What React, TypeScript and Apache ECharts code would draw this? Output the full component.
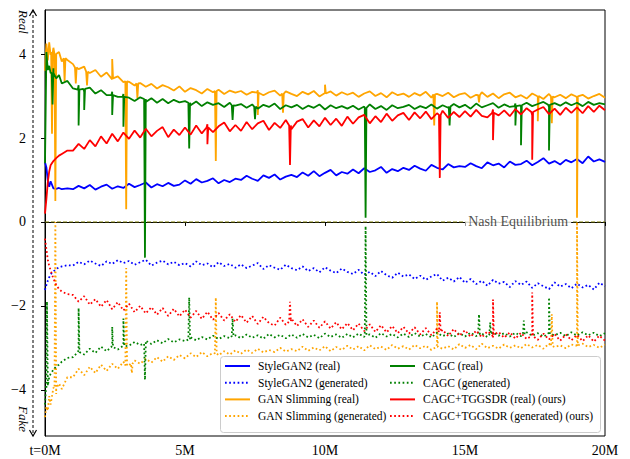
import React, { useEffect, useRef } from "react";
import * as echarts from "echarts";

// sample positions (millions of iterations)
const STEPS = [
  0, 0.05, 0.1, 0.15, 0.2, 0.3, 0.4, 0.5, 0.6, 0.8,
  1.0, 1.2, 1.4, 1.6, 1.8, 2.0, 2.2, 2.4, 2.6, 2.8,
  3.0, 3.2, 3.4, 3.6, 3.8, 4.0, 4.2, 4.4, 4.6, 4.8,
  5.0, 5.2, 5.4, 5.6, 5.8, 6.0, 6.2, 6.4, 6.6, 6.8,
  7.0, 7.2, 7.4, 7.6, 7.8, 8.0, 8.2, 8.4, 8.6, 8.8,
  9.0, 9.2, 9.4, 9.6, 9.8, 10.0, 10.2, 10.4, 10.6, 10.8,
  11.0, 11.2, 11.4, 11.6, 11.8, 12.0, 12.2, 12.4, 12.6, 12.8,
  13.0, 13.2, 13.4, 13.6, 13.8, 14.0, 14.2, 14.4, 14.6, 14.8,
  15.0, 15.2, 15.4, 15.6, 15.8, 16.0, 16.2, 16.4, 16.6, 16.8,
  17.0, 17.2, 17.4, 17.6, 17.8, 18.0, 18.2, 18.4, 18.6, 18.8,
  19.0, 19.2, 19.4, 19.6, 19.8, 20.0,
];

const STYLEGAN2_REAL = [
  1.42, 1.30, 0.98, 0.84, 0.97, 0.80, 0.79, 0.81, 0.78, 0.80,
  0.78, 0.86, 0.80, 0.88, 0.77, 0.84, 0.89, 0.79, 0.85, 0.81,
  0.91, 0.83, 0.88, 0.94, 0.82, 0.90, 0.85, 0.93, 0.86, 0.89,
  0.99, 0.91, 1.02, 0.94, 0.98, 1.04, 0.92, 1.00, 0.95, 1.03,
  1.00, 1.10, 1.03, 0.98, 1.11, 1.05, 1.13, 1.01, 1.08, 1.12,
  1.07, 1.18, 1.10, 1.21, 1.09, 1.17, 1.24, 1.11, 1.19, 1.15,
  1.25, 1.16, 1.28, 1.19, 1.23, 1.31, 1.17, 1.26, 1.21, 1.29,
  1.24, 1.34, 1.27, 1.22, 1.36, 1.29, 1.25, 1.38, 1.30, 1.33,
  1.31, 1.40, 1.33, 1.28, 1.42, 1.35, 1.39, 1.30, 1.44, 1.36,
  1.38, 1.46, 1.35, 1.43, 1.52, 1.39, 1.45, 1.37, 1.48, 1.42,
  1.50, 1.40, 1.56, 1.44, 1.49, 1.43,
];
const STYLEGAN2_GEN = [
  -1.62, -1.50, -1.40, -1.32, -1.25, -1.18, -1.12, -1.08, -1.06, -1.03,
  -1.04, -0.95, -1.01, -0.92, -0.99, -1.05, -0.94, -1.00, -0.91, -0.98,
  -0.93, -1.02, -0.96, -0.90, -1.04, -0.97, -0.92, -1.01, -0.95, -1.03,
  -0.98, -1.06, -0.94, -1.03, -0.99, -1.08, -0.96, -1.05, -1.00, -1.09,
  -1.01, -1.10, -1.04, -0.98, -1.12, -1.03, -1.09, -1.14, -1.02, -1.10,
  -1.15, -1.06, -1.17, -1.10, -1.20, -1.08, -1.16, -1.22, -1.11, -1.19,
  -1.24, -1.14, -1.26, -1.19, -1.29, -1.17, -1.27, -1.33, -1.21, -1.30,
  -1.25, -1.36, -1.28, -1.38, -1.30, -1.24, -1.40, -1.33, -1.42, -1.31,
  -1.45, -1.36, -1.48, -1.40, -1.52, -1.38, -1.47, -1.43, -1.55, -1.41,
  -1.50, -1.42, -1.57, -1.46, -1.53, -1.60, -1.44, -1.54, -1.48, -1.58,
  -1.47, -1.56, -1.50, -1.61, -1.45, -1.53,
];
const SLIM_REAL = [
  3.60, 4.25, 3.85, 4.28, 3.98, 4.15, 3.90, 4.05, 3.82, 3.86,
  3.76, 3.64, 3.70, 3.55, 3.62, 3.46, 3.56, 3.40, 3.47, 3.33,
  3.34, 3.25, 3.31, 3.22, 3.29, 3.18, 3.26, 3.21, 3.13, 3.23,
  3.10, 3.19, 3.14, 3.06, 3.17, 3.09, 3.15, 3.05, 3.13, 3.08,
  3.12, 3.03, 3.10, 3.14, 3.02, 3.09, 3.13, 3.01, 3.11, 3.05,
  3.00, 3.10, 3.04, 3.12, 2.99, 3.07, 3.11, 3.01, 3.09, 3.03,
  3.08, 2.98, 3.06, 3.11, 3.00, 3.07, 2.97, 3.09, 3.02, 3.06,
  2.98, 3.07, 3.01, 3.10, 2.96, 3.05, 3.00, 3.08, 2.97, 3.04,
  3.07, 2.96, 3.03, 3.09, 2.98, 3.06, 2.95, 3.04, 3.08, 2.97,
  3.02, 2.94, 3.06, 2.99, 2.93, 3.05, 2.97, 3.03, 2.95, 3.04,
  2.96, 3.03, 2.94, 3.00, 3.05, 2.96,
];
const SLIM_GEN = [
  -4.65, -4.40, -4.50, -4.15, -4.35, -3.95, -4.10, -3.85, -3.98, -3.70,
  -3.70, -3.50, -3.65, -3.45, -3.60, -3.40, -3.55, -3.38, -3.50, -3.33,
  -3.42, -3.30, -3.38, -3.26, -3.35, -3.22, -3.33, -3.20, -3.29, -3.17,
  -3.25, -3.13, -3.22, -3.10, -3.20, -3.12, -3.18, -3.08, -3.16, -3.06,
  -3.14, -3.04, -3.12, -3.02, -3.11, -3.05, -3.10, -3.00, -3.09, -3.03,
  -3.08, -2.97, -3.07, -2.99, -3.06, -2.96, -3.08, -2.98, -3.05, -2.95,
  -3.04, -2.96, -3.06, -2.94, -3.03, -2.97, -3.05, -2.93, -3.02, -2.96,
  -3.04, -2.93, -3.01, -2.95, -3.05, -2.92, -3.02, -2.96, -3.04, -2.91,
  -3.00, -2.93, -3.03, -2.90, -3.01, -2.95, -3.02, -2.92, -3.00, -2.94,
  -3.01, -2.91, -2.99, -2.93, -3.02, -2.90, -2.98, -2.94, -3.01, -2.92,
  -2.99, -2.90, -2.98, -2.93, -3.00, -2.92,
];
const CAGC_REAL = [
  1.40, 4.05, 3.62, 3.72, 3.55, 3.66, 3.42, 3.50, 3.30, 3.36,
  3.18, 3.26, 3.10, 3.20, 3.06, 3.14, 3.02, 3.10, 2.98, 3.05,
  2.96, 2.88, 2.97, 2.86, 2.95, 2.84, 2.93, 2.83, 2.91, 2.85,
  2.88, 2.78, 2.87, 2.76, 2.85, 2.79, 2.83, 2.74, 2.84, 2.77,
  2.81, 2.72, 2.80, 2.70, 2.79, 2.74, 2.82, 2.69, 2.78, 2.73,
  2.79, 2.69, 2.77, 2.72, 2.80, 2.68, 2.78, 2.71, 2.76, 2.70,
  2.77, 2.68, 2.75, 2.80, 2.69, 2.76, 2.67, 2.78, 2.71, 2.74,
  2.79, 2.69, 2.76, 2.71, 2.80, 2.70, 2.78, 2.72, 2.81, 2.73,
  2.79, 2.70, 2.82, 2.73, 2.78, 2.83, 2.72, 2.80, 2.74, 2.82,
  2.75, 2.84, 2.76, 2.81, 2.86, 2.74, 2.83, 2.77, 2.85, 2.78,
  2.84, 2.76, 2.86, 2.79, 2.83, 2.80,
];
const CAGC_GEN = [
  -4.35, -3.95, -3.80, -3.70, -3.62, -3.52, -3.44, -3.40, -3.33, -3.24,
  -3.22, -3.06, -3.16, -3.02, -3.12, -2.97, -3.08, -2.93, -3.04, -2.91,
  -2.95, -2.86, -2.93, -2.83, -2.91, -2.82, -2.89, -2.79, -2.87, -2.80,
  -2.84, -2.75, -2.82, -2.74, -2.80, -2.71, -2.79, -2.72, -2.77, -2.70,
  -2.77, -2.68, -2.76, -2.70, -2.78, -2.67, -2.75, -2.69, -2.77, -2.68,
  -2.76, -2.67, -2.75, -2.69, -2.77, -2.66, -2.74, -2.68, -2.76, -2.67,
  -2.75, -2.66, -2.74, -2.68, -2.76, -2.65, -2.73, -2.67, -2.75, -2.66,
  -2.74, -2.65, -2.73, -2.67, -2.75, -2.64, -2.72, -2.66, -2.74, -2.65,
  -2.73, -2.64, -2.72, -2.66, -2.74, -2.63, -2.71, -2.65, -2.73, -2.64,
  -2.72, -2.63, -2.71, -2.65, -2.73, -2.62, -2.70, -2.64, -2.72, -2.63,
  -2.71, -2.63, -2.70, -2.64, -2.72, -2.65,
];
const OURS_REAL = [
  0.20, 0.55, 0.95, 1.20, 1.35, 1.45, 1.52, 1.58, 1.62, 1.70,
  1.70, 1.86, 1.74, 1.95, 1.80, 2.04, 1.87, 2.10, 1.92, 2.13,
  1.98, 2.18, 2.01, 2.22, 2.04, 2.17, 2.26, 2.02, 2.20, 2.07,
  2.25, 2.08, 2.30, 2.11, 2.33, 2.14, 2.28, 2.37, 2.16, 2.31,
  2.17, 2.38, 2.21, 2.35, 2.41, 2.19, 2.36, 2.24, 2.43, 2.21,
  2.39, 2.45, 2.25, 2.42, 2.28, 2.48, 2.31, 2.46, 2.29, 2.51,
  2.34, 2.49, 2.55, 2.35, 2.52, 2.38, 2.58, 2.41, 2.54, 2.60,
  2.43, 2.61, 2.47, 2.63, 2.45, 2.59, 2.65, 2.48, 2.62, 2.50,
  2.64, 2.51, 2.67, 2.53, 2.49, 2.68, 2.54, 2.66, 2.52, 2.69,
  2.56, 2.71, 2.54, 2.68, 2.74, 2.57, 2.70, 2.55, 2.72, 2.60,
  2.73, 2.59, 2.76, 2.62, 2.77, 2.66,
];
const OURS_GEN = [
  -0.40, -0.65, -0.90, -1.05, -1.15, -1.35, -1.50, -1.60, -1.66, -1.72,
  -1.74, -1.90, -1.77, -1.97, -1.84, -2.02, -1.86, -2.08, -1.91, -2.11,
  -1.95, -2.15, -2.00, -2.18, -2.03, -2.21, -2.05, -2.24, -2.07, -2.25,
  -2.09, -2.28, -2.12, -2.31, -2.14, -2.33, -2.17, -2.35, -2.20, -2.38,
  -2.22, -2.40, -2.24, -2.43, -2.26, -2.41, -2.47, -2.28, -2.45, -2.30,
  -2.48, -2.32, -2.50, -2.35, -2.52, -2.37, -2.54, -2.39, -2.56, -2.41,
  -2.58, -2.42, -2.60, -2.44, -2.62, -2.46, -2.63, -2.48, -2.65, -2.50,
  -2.66, -2.51, -2.68, -2.53, -2.70, -2.54, -2.57, -2.72, -2.55, -2.71,
  -2.58, -2.74, -2.59, -2.75, -2.61, -2.77, -2.62, -2.76, -2.63, -2.78,
  -2.64, -2.79, -2.65, -2.81, -2.66, -2.80, -2.67, -2.83, -2.68, -2.82,
  -2.69, -2.84, -2.70, -2.85, -2.71, -2.83,
];

// single-sample outliers [t (M), peak value, level around it]
const SLIM_REAL_SPIKES = [
  [0.25, 2.1, 4.05], [0.37, 0.5, 4.0], [0.7, 3.35, 3.9], [1.1, 3.3, 3.68], [1.5, 3.25, 3.58],
  [2.4, 3.88, 3.42], [2.9, 0.3, 3.35], [3.3, 2.95, 3.3], [6.1, 1.45, 3.12], [7.6, 2.55, 3.08],
  [8.5, 2.6, 3.06], [10.0, 3.27, 3.06], [13.9, 2.3, 3.04], [15.5, 2.85, 3.02], [17.6, 2.4, 3.0],
  [18.1, 2.35, 2.99], [19.0, 0.1, 2.99],
];
const SLIM_GEN_SPIKES = [
  [0.37, 0.0, -3.97], [2.9, -1.1, -3.42], [3.1, -3.6, -3.37], [6.1, -1.8, -3.13],
  [14.0, -1.9, -2.98], [18.1, -2.2, -2.96], [19.0, 0.0, -2.94],
];
const CAGC_REAL_SPIKES = [
  [0.27, 2.8, 3.55], [1.2, 2.3, 3.15], [1.4, 2.67, 3.17], [2.4, 2.55, 3.02], [2.8, 2.27, 2.98],
  [3.57, -0.85, 2.93], [5.15, 1.75, 2.84], [6.7, 2.43, 2.78], [7.5, 2.45, 2.75], [11.45, 0.1, 2.72],
  [14.45, 2.3, 2.75], [16.8, 2.3, 2.76], [17.0, 1.83, 2.78], [18.0, 1.7, 2.79],
];
const CAGC_GEN_SPIKES = [
  [0.07, -1.9, -3.9], [1.2, -2.05, -3.1], [2.4, -2.5, -2.98], [2.8, -2.3, -2.96], [3.57, -3.76, -2.9],
  [5.15, -1.8, -2.8], [6.7, -2.3, -2.72], [11.45, -0.1, -2.7], [15.5, -2.2, -2.68],
  [15.9, -2.4, -2.68], [17.1, -2.35, -2.68], [18.0, -1.8, -2.67],
];
const OURS_REAL_SPIKES = [
  [5.8, 1.85, 2.25], [8.75, 1.36, 2.3], [14.1, 1.05, 2.55], [16.0, 1.95, 2.6], [17.4, 1.48, 2.62],
];
const OURS_GEN_SPIKES = [
  [8.75, -1.9, -2.37], [14.1, -2.15, -2.62], [16.0, -1.85, -2.69], [17.4, -1.68, -2.72],
];

const X_TICKS = [0, 5, 10, 15, 20];
const Y_TICKS = [-4, -2, 0, 2, 4];
const NASH_T = 16.9;

const SERIES_DEFS = [
  { name: "StyleGAN2 (real)", vals: STYLEGAN2_REAL, spikes: [], color: "#0000ff", dotted: false },
  { name: "StyleGAN2 (generated)", vals: STYLEGAN2_GEN, spikes: [], color: "#0000ff", dotted: true },
  { name: "GAN Slimming (real)", vals: SLIM_REAL, spikes: SLIM_REAL_SPIKES, color: "#ffa500", dotted: false },
  { name: "GAN Slimming (generated)", vals: SLIM_GEN, spikes: SLIM_GEN_SPIKES, color: "#ffa500", dotted: true },
  { name: "CAGC (real)", vals: CAGC_REAL, spikes: CAGC_REAL_SPIKES, color: "#008000", dotted: false },
  { name: "CAGC (generated)", vals: CAGC_GEN, spikes: CAGC_GEN_SPIKES, color: "#008000", dotted: true },
  { name: "CAGC+TGGSDR (real) (ours)", vals: OURS_REAL, spikes: OURS_REAL_SPIKES, color: "#ff0000", dotted: false },
  { name: "CAGC+TGGSDR (generated) (ours)", vals: OURS_GEN, spikes: OURS_GEN_SPIKES, color: "#ff0000", dotted: true },
];

const FONT = "Liberation Serif";
const DOT: number[] = [1.7, 2.5];
const SPIKE_HALF = 0.03;

function build(vals: number[], spikes: number[][]) {
  const pts = STEPS.map((t, i) => [t, vals[i]]);
  spikes.forEach((s) => {
    pts.push([s[0] - SPIKE_HALF, s[2]]);
    pts.push([s[0], s[1]]);
    pts.push([s[0] + SPIKE_HALF, s[2]]);
  });
  pts.sort((a, b) => a[0] - b[0]);
  return pts;
}

function legendGraphic() {
  const els: any[] = [
    {
      type: "rect",
      shape: { x: 220.5, y: 356.5, width: 380, height: 76, r: 3 },
      style: { fill: "rgba(255,255,255,0.85)", stroke: "#cccccc", lineWidth: 1 },
      z: 100,
    },
  ];
  SERIES_DEFS.forEach((d, i) => {
    const col = Math.floor(i / 4);
    const row = i % 4;
    const x0 = col === 0 ? 225 : 390;
    const y = 366 + row * 16.7;
    els.push({
      type: "line",
      shape: { x1: x0, y1: y, x2: x0 + 25, y2: y },
      style: { stroke: d.color, lineWidth: 2, lineDash: d.dotted ? DOT : null },
      z: 101,
    });
    els.push({
      type: "text",
      x: x0 + 33,
      y: y,
      style: { text: d.name, fontFamily: FONT, fontSize: 11.5, fill: "#000", align: "left", verticalAlign: "middle" },
      z: 101,
    });
  });
  return els;
}

export default function App() {
  const ref = useRef<HTMLDivElement>(null);
  useEffect(() => {
    if (!ref.current) return;
    const chart = echarts.init(ref.current, null, { renderer: "svg" });
    const series: any[] = [
      {
        type: "line",
        data: [[0, 0], [20, 0]],
        symbol: "none",
        silent: true,
        lineStyle: { color: "#808000", width: 0.9, type: [4, 2] },
        z: 1,
      },
      ...SERIES_DEFS.map((d, i) => ({
        name: d.name,
        type: "line",
        data: build(d.vals, d.spikes),
        symbol: "none",
        silent: true,
        color: d.color,
        itemStyle: { color: d.color },
        lineStyle: { color: d.color, width: 1.8, type: d.dotted ? DOT : "solid" },
        z: 2 + i,
      })),
      {
        type: "scatter",
        data: [[NASH_T, 0]],
        symbolSize: 0,
        silent: true,
        z: 20,
        label: {
          show: true,
          position: "inside",
          formatter: "Nash Equilibrium",
          fontFamily: FONT,
          fontSize: 14,
          color: "#222",
          backgroundColor: "#fff",
          padding: [1, 3],
        },
      },
    ];
    chart.setOption({
      animation: false,
      grid: {
        left: 45, right: 25, top: 10, bottom: 23,
        show: true, borderColor: "#000", borderWidth: 1, backgroundColor: "transparent",
      },
      xAxis: {
        type: "value", min: 0, max: 20, interval: 5,
        axisLine: { show: true, lineStyle: { color: "#000", width: 1 } },
        axisTick: { show: true, length: 4, lineStyle: { color: "#000" } },
        splitLine: { show: false },
        axisLabel: {
          margin: 7, fontFamily: FONT, fontSize: 14, color: "#000",
          formatter: (v: number) => (v === 0 ? "t=0M" : v + "M"),
          customValues: X_TICKS,
        },
      },
      yAxis: {
        type: "value", min: -5.1, max: 5.05,
        axisLine: { show: true, lineStyle: { color: "#000", width: 1 } },
        axisTick: { show: true, length: 4, lineStyle: { color: "#000" }, customValues: Y_TICKS },
        splitLine: { show: false },
        axisLabel: {
          margin: 19, fontFamily: FONT, fontSize: 14, color: "#000",
          customValues: Y_TICKS,
          formatter: (v: number) => (v < 0 ? "\u2212" + Math.abs(v) : String(v)),
        },
      },
      graphic: [
        { type: "line", shape: { x1: 33, y1: 10, x2: 33, y2: 436 }, style: { stroke: "#000", lineWidth: 1, lineDash: [3, 2] } },
        { type: "polyline", shape: { points: [[29.5, 16], [33, 10], [36.5, 16]] }, style: { stroke: "#000", lineWidth: 1.2, fill: null } },
        { type: "polyline", shape: { points: [[29.5, 430], [33, 436], [36.5, 430]] }, style: { stroke: "#000", lineWidth: 1.2, fill: null } },
        { type: "text", x: 23, y: 22, rotation: -Math.PI / 2, style: { text: "Real", fontFamily: FONT, fontStyle: "italic", fontSize: 13, fill: "#000", align: "center", verticalAlign: "middle" } },
        { type: "text", x: 23, y: 419, rotation: -Math.PI / 2, style: { text: "Fake", fontFamily: FONT, fontStyle: "italic", fontSize: 13, fill: "#000", align: "center", verticalAlign: "middle" } },
        ...legendGraphic(),
      ],
      series,
    });
    return () => chart.dispose();
  }, []);
  return <div ref={ref} style={{ position: "absolute", left: 0, top: 0, width: 630, height: 459 }} />;
}
